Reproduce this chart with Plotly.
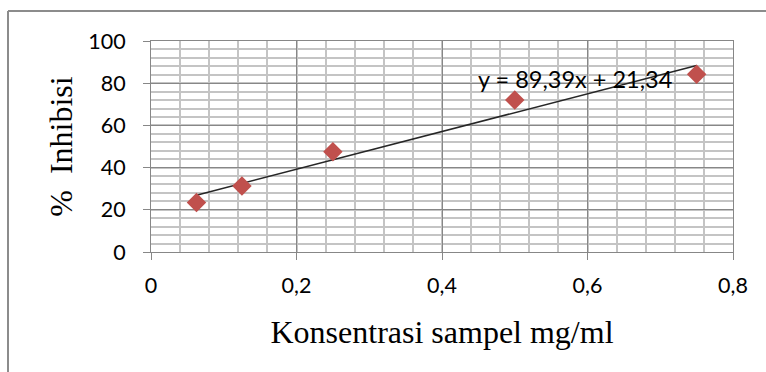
import plotly.graph_objects as go

# Data
konsentrasi = [0.0625, 0.125, 0.25, 0.5, 0.75]
inhibisi = [23.5, 31.3, 47.5, 72.0, 84.2]
slope = 89.39
intercept = 21.34
trend_label = "y = 89,39x + 21,34"
x_ticks = [0, 0.2, 0.4, 0.6, 0.8]
x_ticklabels = ["0", "0,2", "0,4", "0,6", "0,8"]
y_ticks = [0, 20, 40, 60, 80, 100]

trend_x = [min(konsentrasi), max(konsentrasi)]
trend_y = [slope * v + intercept for v in trend_x]

MAJOR = "#878787"
MINOR = "#c4c4c4"

fig = go.Figure()
fig.add_trace(go.Scatter(
    x=trend_x, y=trend_y, mode="lines",
    line=dict(color="#262626", width=1.5), hoverinfo="skip", showlegend=False))
fig.add_trace(go.Scatter(
    x=konsentrasi, y=inhibisi, mode="markers",
    marker=dict(symbol="diamond", size=15, color="#c0504d", line=dict(width=0)),
    showlegend=False))

fig.add_annotation(x=0.583, y=82, xref="x", yref="y", text=trend_label,
                   showarrow=False, xanchor="center", yanchor="middle",
                   font=dict(family="Lato", size=23.5, color="#000000"))

# outer chart border (top and left visible)
fig.add_shape(type="line", xref="paper", yref="paper", x0=-0.2457, x1=1.06, y0=1.142, y1=1.142,
              line=dict(color="#8c8c8c", width=2))
fig.add_shape(type="line", xref="paper", yref="paper", x0=-0.2457, x1=-0.2457, y0=1.142, y1=-0.6,
              line=dict(color="#8c8c8c", width=2))

fig.update_xaxes(
    range=[0, 0.8], tickvals=x_ticks, ticktext=x_ticklabels,
    showgrid=True, gridcolor=MAJOR, gridwidth=1,
    minor=dict(dtick=0.04, tick0=0, showgrid=True, gridcolor=MINOR, gridwidth=1.5, ticks=""),
    showline=True, linecolor=MAJOR, linewidth=1, mirror=True,
    ticks="outside", ticklen=7, tickcolor=MAJOR, tickwidth=1,
    zeroline=False, ticklabelstandoff=7,
    tickfont=dict(family="Lato", size=21.5, color="#000000"),
    title=dict(text="Konsentrasi sampel mg/ml", standoff=23,
               font=dict(family="Liberation Serif", size=32, color="#000000")),
)
fig.update_yaxes(
    range=[0, 100], tickvals=y_ticks,
    showgrid=True, gridcolor=MAJOR, gridwidth=1,
    minor=dict(dtick=4, tick0=0, showgrid=True, gridcolor=MINOR, gridwidth=1.5, ticks=""),
    showline=True, linecolor=MAJOR, linewidth=1, mirror=True,
    ticks="outside", ticklen=7, tickcolor=MAJOR, tickwidth=1,
    zeroline=False, ticklabelstandoff=13,
    tickfont=dict(family="Lato", size=21.5, color="#000000"),
    title=dict(text="%\u00a0\u00a0Inhibisi", standoff=6,
               font=dict(family="Liberation Serif", size=32, color="#000000")),
)

fig.update_layout(
    width=766, height=372,
    margin=dict(l=151, r=33, t=41, b=120, autoexpand=False),
    paper_bgcolor="white", plot_bgcolor="white",
)

fig.write_html("out.html",
               config={"displayModeBar": False},
               post_script="document.body.style.margin='0';document.body.style.overflow='hidden';")
